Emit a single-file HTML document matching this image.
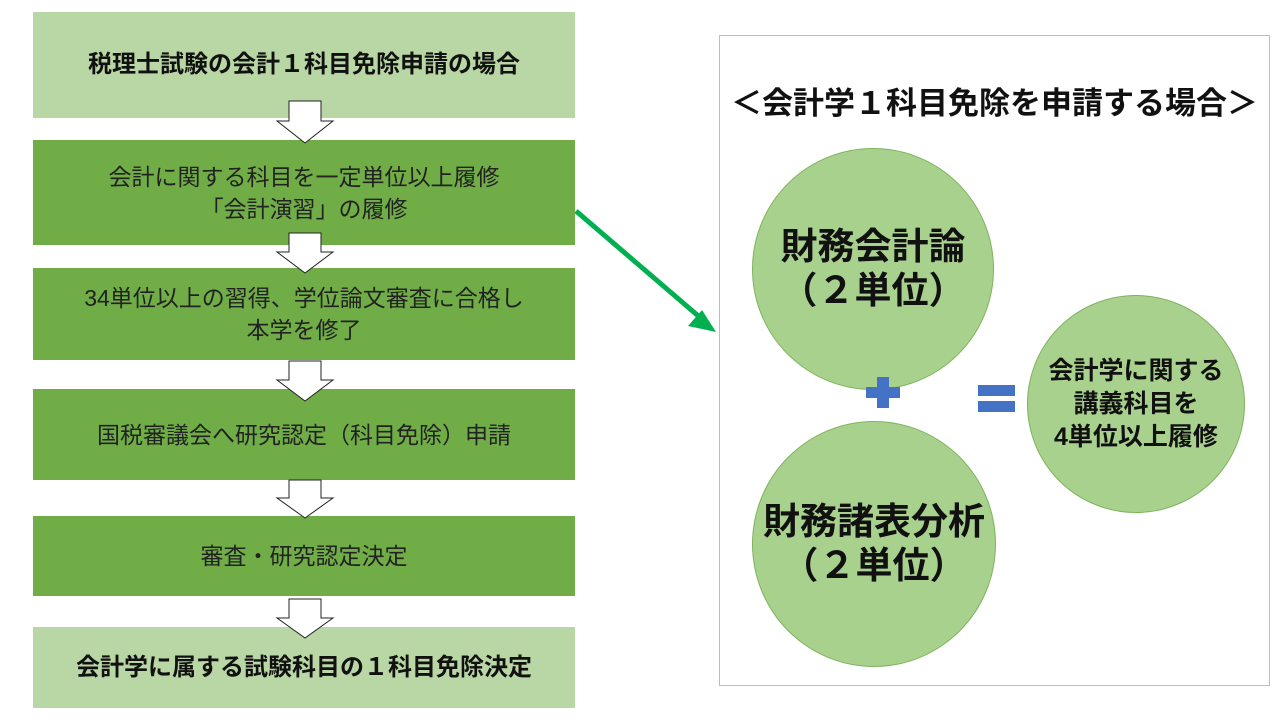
<!DOCTYPE html>
<html><head><meta charset="utf-8"><style>
body{margin:0;width:1280px;height:720px;background:#fff;position:relative;overflow:hidden;font-family:"Liberation Sans","Noto Sans CJK JP",sans-serif}
.b{position:absolute;left:33px;width:542px;display:flex;align-items:center;justify-content:center;text-align:center;color:#222;font-size:23px;line-height:32px}
.l{background:#b9d7a5;font-weight:bold;color:#111;font-size:24px}
.d{background:#70ad47}
.c{position:absolute;border-radius:50%;background:#a9d18e;border:1px solid #7fb35c;display:flex;align-items:center;justify-content:center;text-align:center;font-weight:bold;color:#111}
</style></head><body>
<div class="b l" style="top:12px;height:106px">税理士試験の会計１科目免除申請の場合</div>
<div class="b d" style="top:140px;height:105px">会計に関する科目を一定単位以上履修<br>「会計演習」の履修</div>
<div class="b d" style="top:268px;height:92px">34単位以上の習得、学位論文審査に合格し<br>本学を修了</div>
<div class="b d" style="top:389px;height:91px">国税審議会へ研究認定（科目免除）申請</div>
<div class="b d" style="top:516px;height:80px">審査・研究認定決定</div>
<div class="b l" style="top:627px;height:81px">会計学に属する試験科目の１科目免除決定</div>
<svg width="1280" height="720" style="position:absolute;left:0;top:0">
<g fill="#fff" stroke="#222" stroke-width="1">
<path d="M289 101h32v20h12l-28 22-28-22h12z"/>
<path d="M289 233h32v19h12l-28 21-28-21h12z"/>
<path d="M289 361h32v19h12l-28 21-28-21h12z"/>
<path d="M289 480h32v18h12l-28 20-28-20h12z"/>
<path d="M289 599h32v19h12l-28 20-28-20h12z"/>
</g>
<line x1="576" y1="211" x2="703" y2="320" stroke="#00b050" stroke-width="5"/>
<path d="M716 332l-28-6 14-16z" fill="#00b050"/>
<rect x="719.5" y="35.5" width="550" height="650" fill="none" stroke="#a9d18e" stroke-width="1"/>
</svg>
<div style="position:absolute;left:714px;width:561px;top:78px;text-align:center;font-size:31px;font-weight:bold;color:#111">＜会計学１科目免除を申請する場合＞</div>
<div class="c" style="left:752px;top:148px;width:240px;height:240px;font-size:37px;line-height:44px">財務会計論<br>（２単位）</div>
<div class="c" style="left:752px;top:421px;width:242px;height:244px;font-size:37px;line-height:44px">財務諸表分析<br>（２単位）</div>
<div class="c" style="left:1027px;top:295px;width:216px;height:216px;font-size:25px;line-height:33px">会計学に関する<br>講義科目を<br>4単位以上履修</div>
<div style="position:absolute;left:866px;top:387px;width:34px;height:11px;background:#4472c4"></div>
<div style="position:absolute;left:877px;top:377px;width:12px;height:31px;background:#4472c4"></div>
<div style="position:absolute;left:978px;top:385px;width:37px;height:11px;background:#4472c4"></div>
<div style="position:absolute;left:978px;top:401px;width:37px;height:11px;background:#4472c4"></div>
</body></html>
